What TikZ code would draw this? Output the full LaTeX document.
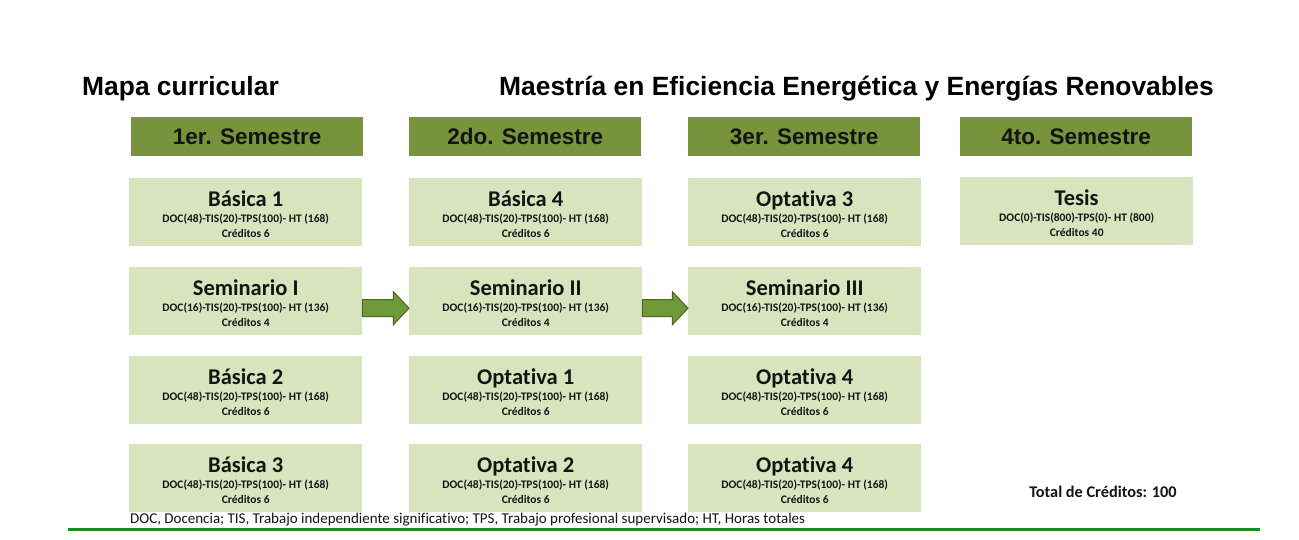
\documentclass[tikz,border=0pt]{standalone}
\usepackage{fontspec}
\setmainfont{Liberation Sans}
\newfontfamily\calfont[Ligatures=NoCommon]{Carlito}
\usetikzlibrary{calc}
\definecolor{hdr}{HTML}{77933C}
\definecolor{crs}{HTML}{D7E4BD}
\definecolor{arrfill}{HTML}{6E9A3A}
\definecolor{arrdraw}{HTML}{4F6228}
\definecolor{rulecol}{HTML}{1E8B2A}
\definecolor{ink}{HTML}{141414}
\newcommand\mkcourse[6]{%
  \node[crsbox] (#1) at (#2,#3) {};
  \node[crsttl] (#1t) at ($(#1.north)+(0,28)$) {#4};
  \node[crssub] (#1a) at ($(#1.north)+(0,44.5)$) {#5};
  \node[crssub] (#1b) at ($(#1.north)+(0,59)$) {#6};
}
\begin{document}
\begin{tikzpicture}[x=1pt,y=-1pt,
  hdrbox/.style={fill=hdr, minimum width=232pt, minimum height=39pt, inner sep=0pt, anchor=north west,
    font=\fontsize{22.5}{24}\selectfont\bfseries, text=ink},
  crsbox/.style={fill=crs, minimum width=233pt, minimum height=68pt, inner sep=0pt, anchor=north west},
  crsttl/.style={anchor=base, inner sep=0pt, text=ink, font=\calfont\bfseries\fontsize{22.5}{24}\selectfont},
  crssub/.style={anchor=base, inner sep=0pt, text=ink, font=\calfont\bfseries\fontsize{11.5}{13}\selectfont},
  titletext/.style={anchor=base west, inner sep=0pt, text=black, font=\fontsize{26.4}{28}\selectfont\bfseries},
  blockarrow/.style={fill=arrfill, draw=arrdraw, line width=1pt, line join=miter}
]
\useasboundingbox[fill=white] (0,0) rectangle (1299,539);

\node[titletext] (t1) at (82,95) {Mapa curricular};
\node[titletext] (t2) at (499,95) {Maestría en Eficiencia Energética y Energías Renovables};

\node[hdrbox] (h1) at (131,117) {1er. Semestre};
\node[hdrbox] (h2) at (409,117) {2do. Semestre};
\node[hdrbox] (h3) at (688,117) {3er. Semestre};
\node[hdrbox] (h4) at (960,117) {4to. Semestre};

\mkcourse{c11}{129}{178}{Básica 1}{DOC(48)-TIS(20)-TPS(100)- HT (168)}{Créditos 6}
\mkcourse{c12}{129}{267}{Seminario I}{DOC(16)-TIS(20)-TPS(100)- HT (136)}{Créditos 4}
\mkcourse{c13}{129}{356}{Básica 2}{DOC(48)-TIS(20)-TPS(100)- HT (168)}{Créditos 6}
\mkcourse{c14}{129}{444}{Básica 3}{DOC(48)-TIS(20)-TPS(100)- HT (168)}{Créditos 6}

\mkcourse{c21}{409}{178}{Básica 4}{DOC(48)-TIS(20)-TPS(100)- HT (168)}{Créditos 6}
\mkcourse{c22}{409}{267}{Seminario II}{DOC(16)-TIS(20)-TPS(100)- HT (136)}{Créditos 4}
\mkcourse{c23}{409}{356}{Optativa 1}{DOC(48)-TIS(20)-TPS(100)- HT (168)}{Créditos 6}
\mkcourse{c24}{409}{444}{Optativa 2}{DOC(48)-TIS(20)-TPS(100)- HT (168)}{Créditos 6}

\mkcourse{c31}{688}{178}{Optativa 3}{DOC(48)-TIS(20)-TPS(100)- HT (168)}{Créditos 6}
\mkcourse{c32}{688}{267}{Seminario III}{DOC(16)-TIS(20)-TPS(100)- HT (136)}{Créditos 4}
\mkcourse{c33}{688}{356}{Optativa 4}{DOC(48)-TIS(20)-TPS(100)- HT (168)}{Créditos 6}
\mkcourse{c34}{688}{444}{Optativa 4}{DOC(48)-TIS(20)-TPS(100)- HT (168)}{Créditos 6}

\mkcourse{c41}{960}{177}{Tesis}{DOC(0)-TIS(800)-TPS(0)- HT (800)}{Créditos 40}

% block arrows
\coordinate (a1) at ($(c12.east)+(0,7)$);
\draw[blockarrow] ($(a1)+(0,-8.5)$) -- ++(31,0) -- ++(0,-8) -- ($(c22.west)+(0,7)$)
  -- ($(a1)+(31,16.5)$) -- ++(0,-8) -- ++(-31,0) -- cycle;
\coordinate (a2) at ($(c22.east)+(0,7)$);
\draw[blockarrow] ($(a2)+(0,-8.5)$) -- ++(30,0) -- ++(0,-8) -- ($(c32.west)+(0,7)$)
  -- ($(a2)+(30,16.5)$) -- ++(0,-8) -- ++(-30,0) -- cycle;

\node[anchor=base, inner sep=0pt, text=ink, font=\calfont\bfseries\fontsize{16.3}{18}\selectfont] (tot) at (1103,497) {Total de Créditos: 100};

\node[anchor=base west, inner sep=0pt, text=ink, font=\calfont\fontsize{15}{17}\selectfont] (foot) at (130,523.5)
  {DOC, Docencia; TIS, Trabajo independiente significativo; TPS, Trabajo profesional supervisado; HT, Horas totales};

\coordinate (r1) at (68,529.5);
\coordinate (r2) at (1260,529.5);
\draw[rulecol, line width=3pt] (r1) -- (r2);
\end{tikzpicture}
\end{document}
